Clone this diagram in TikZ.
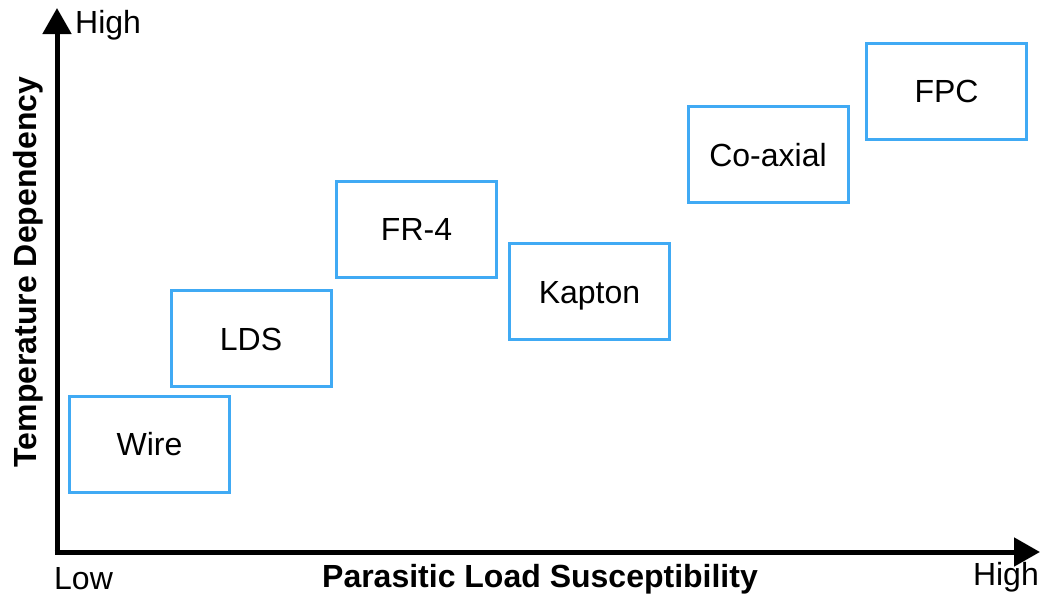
\documentclass[tikz,border=0pt]{standalone}
\usepackage{fontspec}
\setmainfont{Liberation Sans}
\usetikzlibrary{arrows.meta}
\definecolor{boxblue}{HTML}{40AAF4}
\begin{document}
\begin{tikzpicture}[x=1pt,y=-1pt,
  matbox/.style={draw=boxblue,line width=3pt,minimum width=160pt,minimum height=96pt,inner sep=0pt,text height=23pt,text depth=0pt,font=\fontsize{32}{36}\selectfont},
  axis/.style={line width=5pt,-{Triangle[width=28pt,length=26pt]}},
  lbl/.style={font=\fontsize{32}{36}\selectfont,inner sep=0pt}]
\useasboundingbox (0,0) rectangle (1040,597);
\coordinate (o) at (57,552);
\coordinate (ytop) at (57,8);
\coordinate (xend) at (1040,552);
\draw[axis] (57,554.5) -- (ytop);
\draw[axis] (54.5,552) -- (xend);
\node[matbox] (wire) at (149.5,444) {Wire};
\node[matbox] (lds) at (251,338.5) {LDS};
\node[matbox] (fr4) at (416.5,229) {FR-4};
\node[matbox] (kapton) at (589.5,291.5) {Kapton};
\node[matbox] (coax) at (768,154.5) {Co-axial};
\node[matbox] (fpc) at (946.5,91) {FPC};
\node[lbl,anchor=west] (yhigh) at (75,25) {High};
\node[lbl,anchor=west] (xlow) at (54,579) {Low};
\node[lbl,anchor=east] (xhigh) at (1039,577) {High};
\node[lbl,font=\bfseries\fontsize{32}{36}\selectfont] (xlab) at (540,579) {Parasitic Load Susceptibility};
\node[lbl,font=\bfseries\fontsize{32}{36}\selectfont,rotate=90] (ylab) at (28,272) {Temperature Dependency};
\end{tikzpicture}
\end{document}
